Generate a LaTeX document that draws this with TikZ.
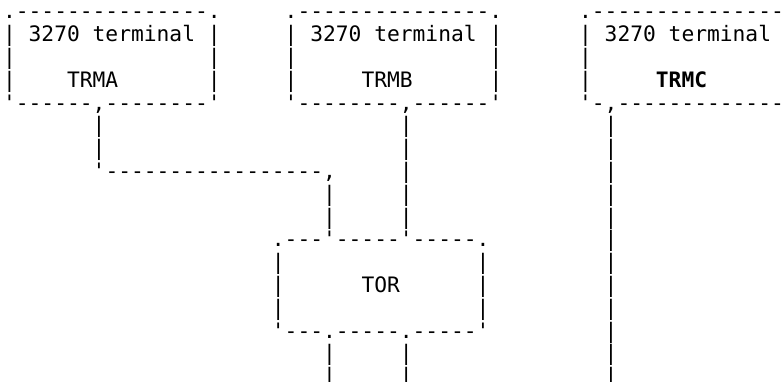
\documentclass[tikz,border=0pt]{standalone}
\usepackage{fontspec}
\setmonofont{DejaVu Sans Mono}
\newcommand\asc[4]{\node[ch] (#1) at ({3.1+12.8*#2},{362.1-22.8*#3}) {#4};}
\begin{document}
\begin{tikzpicture}[x=1pt,y=1pt,
  ch/.style={anchor=base west, inner sep=0pt, outer sep=0pt,
    font=\ttfamily\fontsize{21.26}{22.8}\selectfont, text=black}]
\useasboundingbox (0,0) rectangle (783,381);
% row 0
\asc{r0a}{0}{0}{.---------------.}
\asc{r0b}{22}{0}{.---------------.}
\asc{r0c}{45}{0}{.---------------}
% row 1
\asc{r1a}{0}{1}{|}
\asc{r1b}{2}{1}{3270 terminal}
\asc{r1c}{16}{1}{|}
\asc{r1d}{22}{1}{|}
\asc{r1e}{24}{1}{3270 terminal}
\asc{r1f}{38}{1}{|}
\asc{r1g}{45}{1}{|}
\asc{r1h}{47}{1}{3270 terminal}
% row 2
\asc{r2a}{0}{2}{|}
\asc{r2b}{16}{2}{|}
\asc{r2c}{22}{2}{|}
\asc{r2d}{38}{2}{|}
\asc{r2e}{45}{2}{|}
% row 3
\asc{r3a}{0}{3}{|}
\asc{r3b}{5}{3}{TRMA}
\asc{r3c}{16}{3}{|}
\asc{r3d}{22}{3}{|}
\asc{r3e}{28}{3}{TRMB}
\asc{r3f}{38}{3}{|}
\asc{r3g}{45}{3}{|}
\asc{r3h}{51}{3}{\bfseries TRMC}
% row 4
\asc{r4a}{0}{4}{'------,--------'}
\asc{r4b}{22}{4}{'--------,------'}
\asc{r4c}{45}{4}{'-,-------------}
% rows 5-6
\asc{r5a}{7}{5}{|}
\asc{r5b}{31}{5}{|}
\asc{r5c}{47}{5}{|}
\asc{r6a}{7}{6}{|}
\asc{r6b}{31}{6}{|}
\asc{r6c}{47}{6}{|}
% row 7
\asc{r7a}{7}{7}{'-----------------,}
\asc{r7b}{31}{7}{|}
\asc{r7c}{47}{7}{|}
% rows 8-9
\asc{r8a}{25}{8}{|}
\asc{r8b}{31}{8}{|}
\asc{r8c}{47}{8}{|}
\asc{r9a}{25}{9}{|}
\asc{r9b}{31}{9}{|}
\asc{r9c}{47}{9}{|}
% row 10
\asc{r10a}{21}{10}{.---'-----'-----.}
\asc{r10b}{47}{10}{|}
% rows 11-13
\asc{r11a}{21}{11}{|}
\asc{r11b}{37}{11}{|}
\asc{r11c}{47}{11}{|}
\asc{r12a}{21}{12}{|}
\asc{r12b}{28}{12}{TOR}
\asc{r12c}{37}{12}{|}
\asc{r12d}{47}{12}{|}
\asc{r13a}{21}{13}{|}
\asc{r13b}{37}{13}{|}
\asc{r13c}{47}{13}{|}
% row 14
\asc{r14a}{21}{14}{'---.-----.-----'}
\asc{r14b}{47}{14}{|}
% rows 15-16
\asc{r15a}{25}{15}{|}
\asc{r15b}{31}{15}{|}
\asc{r15c}{47}{15}{|}
\asc{r16a}{25}{16}{|}
\asc{r16b}{31}{16}{|}
\asc{r16c}{47}{16}{|}
\end{tikzpicture}
\end{document}
